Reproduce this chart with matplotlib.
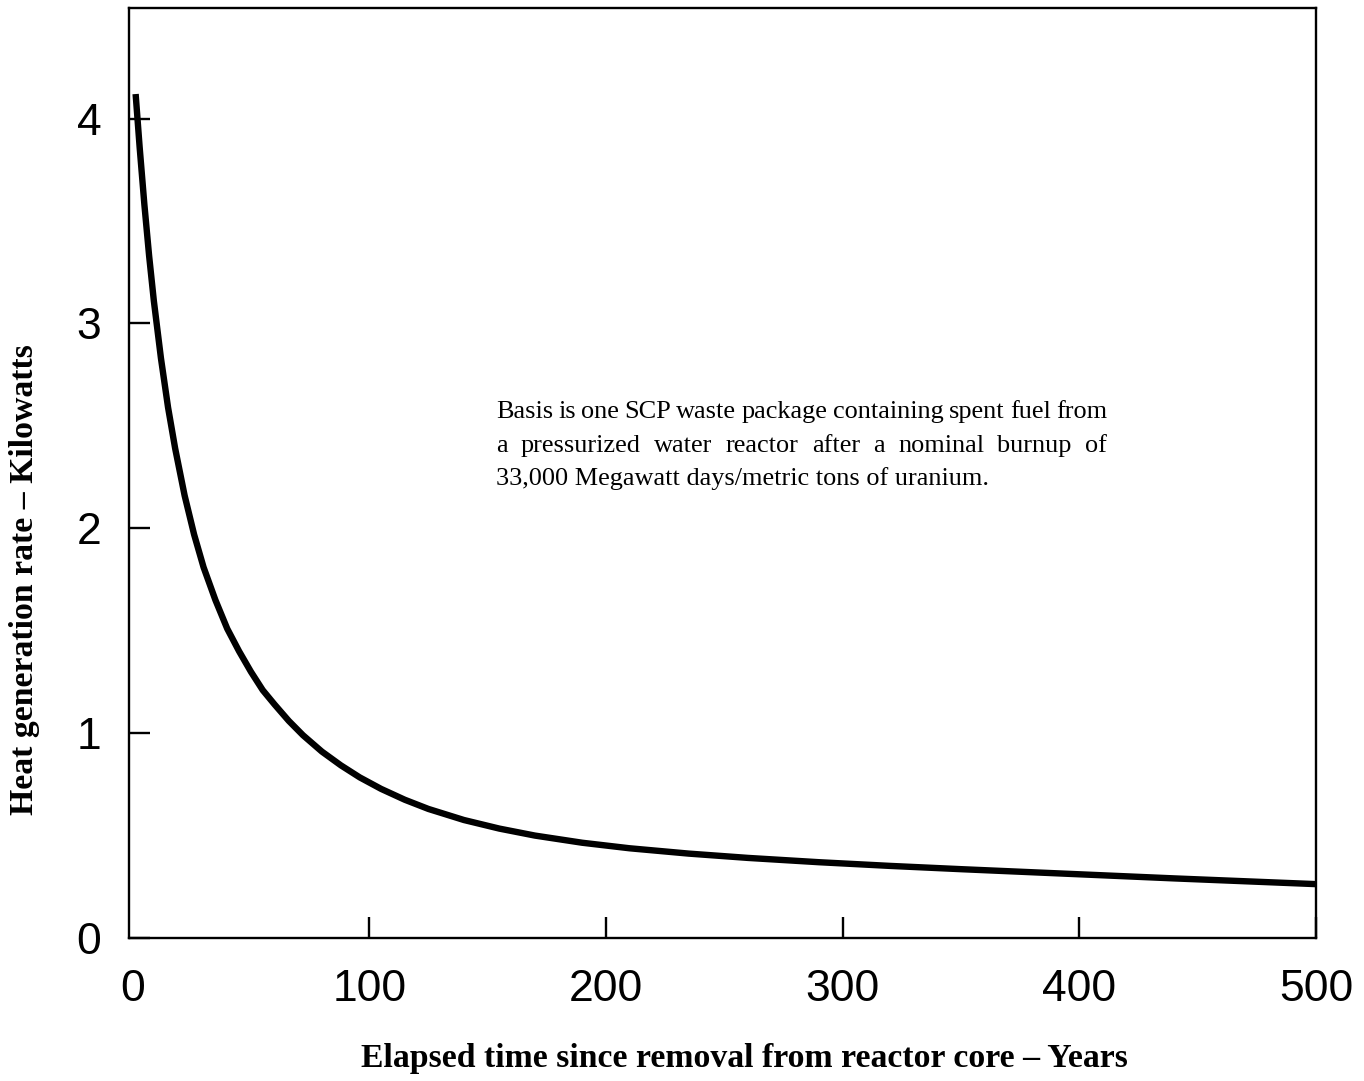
import numpy as np
import matplotlib
matplotlib.use("Agg")
import matplotlib.pyplot as plt

# data (years after removal, kW per package)
years = [1.3, 3, 5, 7, 9, 12, 15, 18, 22, 26, 30, 35, 40, 45, 50, 55, 60, 66, 72,
         80, 88, 96, 105, 115, 125, 140, 155, 170, 190, 210, 235, 260, 290, 320,
         350, 380, 410, 440, 470, 500]
heat_kw = [4.12, 3.86, 3.58, 3.33, 3.11, 2.83, 2.59, 2.39, 2.16, 1.97, 1.81, 1.65,
           1.51, 1.40, 1.30, 1.21, 1.14, 1.06, 0.99, 0.91, 0.843, 0.784, 0.728,
           0.675, 0.63, 0.576, 0.534, 0.50, 0.465, 0.438, 0.412, 0.391, 0.37,
           0.352, 0.336, 0.321, 0.306, 0.291, 0.277, 0.263]

x_ticks = [0, 100, 200, 300, 400, 500]
y_ticks = [0, 1, 2, 3, 4]

note_lines = [
    "Basis is one SCP waste package containing spent fuel from",
    "a pressurized water reactor after a nominal burnup of",
    "33,000 Megawatt days/metric tons of uranium.",
]

W, H = 1364, 1081
fig = plt.figure(figsize=(W / 100, H / 100), dpi=100)
ax = fig.add_axes([129 / W, 1 - 938 / H, (1316 - 129) / W, (938 - 8) / H])

ax.plot(years, heat_kw, color="black", lw=4.6, solid_capstyle="butt",
        solid_joinstyle="round")

ax.set_xlim(-1.5, 500)
ax.set_ylim(0, 4.54)
ax.set_xticks(x_ticks)
ax.set_yticks(y_ticks)
for s in ax.spines.values():
    s.set_linewidth(1.7)
ax.tick_params(direction="in", length=15, width=1.7, top=False, right=False)
ax.tick_params(axis="x", pad=22)
ax.tick_params(axis="y", pad=20)
ax.xaxis.get_major_ticks()[0].tick1line.set_visible(False)
for lab in ax.get_xticklabels() + ax.get_yticklabels():
    lab.set_fontfamily("Liberation Sans")
    lab.set_fontsize(32)

ax.set_xlabel("Elapsed time since removal from reactor core \u2013 Years",
              fontfamily="Liberation Serif", fontweight="bold", fontsize=24.3)
ax.xaxis.set_label_coords((744 - 129) / 1187, (938 - 1043) / 930)
ax.set_ylabel("Heat generation rate \u2013 Kilowatts",
              fontfamily="Liberation Serif", fontweight="bold", fontsize=24.3)
ax.yaxis.set_label_coords((40 - 129) / 1187, (938 - 580) / 930)

# justified note text, word by word
renderer = fig.canvas.get_renderer()
left, right = 496, 1107
baselines = [418, 452, 485]
note_size = 18.9
for i, line in enumerate(note_lines):
    y = 1 - baselines[i] / H
    if i == len(note_lines) - 1:
        fig.text(left / W, y, line, fontfamily="Liberation Serif", fontsize=note_size,
                 va="baseline", ha="left")
        continue
    words = line.split()
    arts = [fig.text(0, y, w, fontfamily="Liberation Serif", fontsize=note_size,
                     va="baseline", ha="left") for w in words]
    widths = [a.get_window_extent(renderer).width for a in arts]
    gap = (right - left - sum(widths)) / (len(words) - 1)
    xpos = left
    for a, wd in zip(arts, widths):
        a.set_x(xpos / W)
        xpos += wd + gap

fig.savefig("out.png", dpi=100, facecolor="white")
